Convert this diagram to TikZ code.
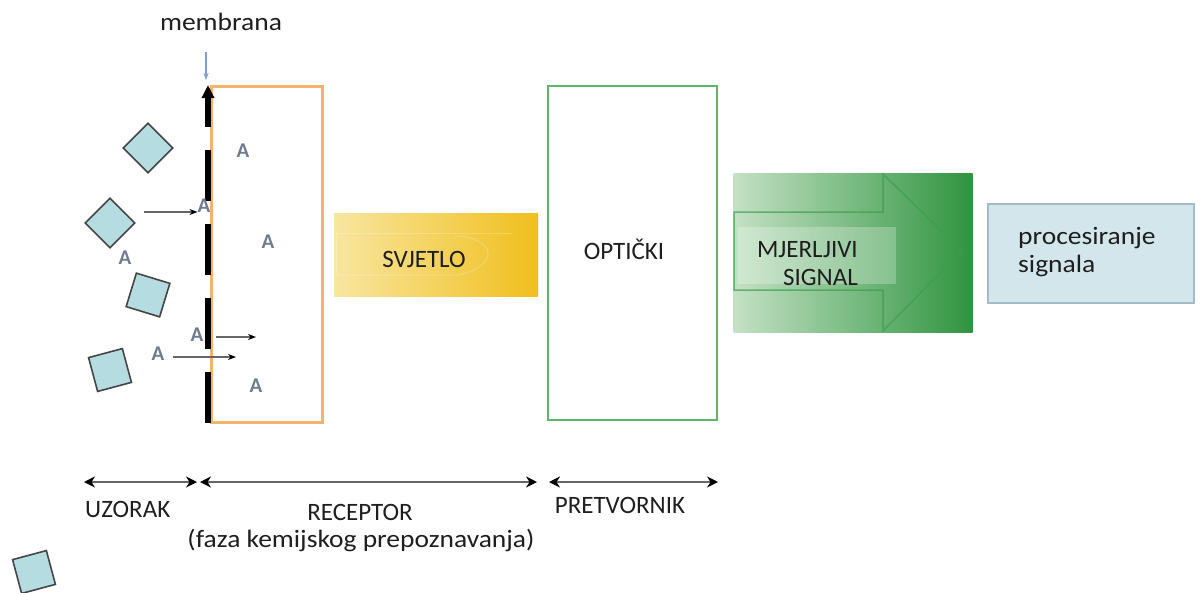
\documentclass[tikz,border=0pt]{standalone}
\usepackage{fontspec}
\setmainfont{Carlito}
\newfontfamily\widefont{Carlito}[FakeStretch=1.1]
\usetikzlibrary{arrows.meta}
\definecolor{txt}{HTML}{1E1E1E}
\definecolor{sqfill}{HTML}{B5DCE0}
\definecolor{sqline}{HTML}{454545}
\definecolor{orng}{HTML}{F6B26B}
\definecolor{grn}{HTML}{5DB46A}
\definecolor{agray}{HTML}{6F7C90}
\definecolor{ylL}{HTML}{F8E6A0}
\definecolor{ylR}{HTML}{F0BF1C}
\definecolor{gnL}{HTML}{C4E1C4}
\definecolor{gnM}{HTML}{8EC68E}
\definecolor{gnR}{HTML}{2F9440}
\definecolor{gnO}{HTML}{3C9E4C}
\definecolor{pfill}{HTML}{D3E6EC}
\definecolor{pline}{HTML}{A3BCC4}
\definecolor{memblue}{HTML}{7F9ED6}
\begin{document}
\begin{tikzpicture}[x=1pt,y=-1pt,
 lbl/.style={text=txt, font=\fontsize{25}{28}\selectfont, inner sep=0},
 wlbl/.style={text=txt, font=\widefont\fontsize{25}{28}\selectfont, inner sep=0},
 sq/.style={draw=sqline, fill=sqfill, line width=1.6pt, minimum width=35pt, minimum height=35pt, inner sep=0},
 mol/.style={text=agray, font=\bfseries\fontsize{21}{21}\selectfont, inner sep=0},
 thinarr/.style={draw=black!60, line width=1.3pt, -{Stealth[length=8pt,width=6pt,black]}},
 dim/.style={draw=black!60, line width=2pt, {Stealth[length=11pt,width=11pt,black]}-{Stealth[length=11pt,width=11pt,black]}},
]
\useasboundingbox (0,0) rectangle (1200,592);

% receptor box
\node[draw=orng, line width=3pt, minimum width=111pt, minimum height=336pt, inner sep=0] (rec) at (266.5,254) {};
% transducer box
\node[draw=grn, line width=2.5pt, minimum width=169pt, minimum height=334pt, inner sep=0] (opt) at (632.5,253) {};
\node[lbl] (optlbl) at (624,249) {OPTIČKI};

% membrane
\coordinate (mb) at (208,423);
\coordinate (mt) at (208,85);
\draw[line width=6pt, dash pattern=on 51pt off 23pt, -{Triangle[length=13pt,width=12pt]}] (mb) -- (mt);
\node[wlbl] (memlbl) at (221,22) {membrana};
\coordinate (mba) at (206,52);
\coordinate (mbb) at (206,80);
\draw[draw=memblue, line width=1.2pt, -{Stealth[length=7pt,width=5pt]}] (mba) -- (mbb);

% sample particles
\node[sq, rotate=45] (s1) at (148,148) {};
\node[sq, rotate=45] (s2) at (110,223) {};
\node[sq, rotate=-17] (s3) at (148,295) {};
\node[sq, rotate=15] (s4) at (110,370) {};
\node[sq, rotate=15] (s5) at (34,572) {};

% analyte molecules
\node[mol] (a1) at (243,151) {A};
\node[mol] (a2) at (204,206) {A};
\node[mol] (a3) at (268,242) {A};
\node[mol] (a4) at (125,258) {A};
\node[mol] (a5) at (197,335) {A};
\node[mol] (a6) at (158,354) {A};
\node[mol] (a7) at (256,386) {A};

\coordinate (p1) at (144,212);
\coordinate (p2) at (256,337);
\coordinate (p3) at (236,357);
\draw[thinarr] (p1) -- (a2.west |- p1);
\draw[thinarr] ([xshift=12pt]a5.east |- p2) -- (p2);
\draw[thinarr] ([xshift=8pt]a6.east |- p3) -- (p3);

% light
\node[left color=ylL, right color=ylR, minimum width=204pt, minimum height=83pt, inner sep=0] (light) at (436,254.5) {};
\draw[white, opacity=.22, line width=1pt] (336,275) -- (336,233) -- (512,233);
\draw[white, opacity=.22, line width=1pt] (336,275) -- (458,275) .. controls (475,272) and (490,262) .. (488,252) .. controls (486,242) and (470,236) .. (455,236);
\node[lbl] (lightlbl) at (424,259) {SVJETLO};

% measurable signal
\node[left color=gnL, middle color=gnM, right color=gnR, minimum width=239pt, minimum height=159pt, inner sep=0] (sig) at (853,252.5) {};
\draw[gnO, opacity=.7, line width=1.5pt] (734,212) -- (883,212) -- (883,174) -- (962,251) -- (883,331) -- (883,290) -- (734,290) -- cycle;
\fill[white, opacity=.25] (738,227) rectangle (896,284);
\node[lbl, align=right, anchor=base east] (siglbl) at (858,285) {MJERLJIVI\\SIGNAL};

% processing
\node[draw=pline, fill=pfill, line width=2pt, minimum width=206pt, minimum height=99pt, inner sep=0] (proc) at (1091,253) {};
\node[wlbl, align=left, anchor=base west] (proclbl) at (1018,272) {procesiranje\\signala};

% dimension arrows
\coordinate (u1) at (84,482);
\coordinate (u2) at (197,482);
\coordinate (r1) at (200,482);
\coordinate (r2) at (537,482);
\coordinate (t1) at (549,482);
\coordinate (t2) at (718,482);
\draw[dim] (u1) -- (u2);
\draw[dim] (r1) -- (r2);
\draw[dim] (t1) -- (t2);
\node[lbl, anchor=base west] (ulbl) at (85,517) {UZORAK};
\node[lbl, anchor=base] (rlbl) at (360,520) {RECEPTOR};
\node[wlbl, anchor=base] (rlbl2) at (361,547) {(faza kemijskog prepoznavanja)};
\node[lbl, anchor=base] (tlbl) at (620,513) {PRETVORNIK};
\end{tikzpicture}
\end{document}
